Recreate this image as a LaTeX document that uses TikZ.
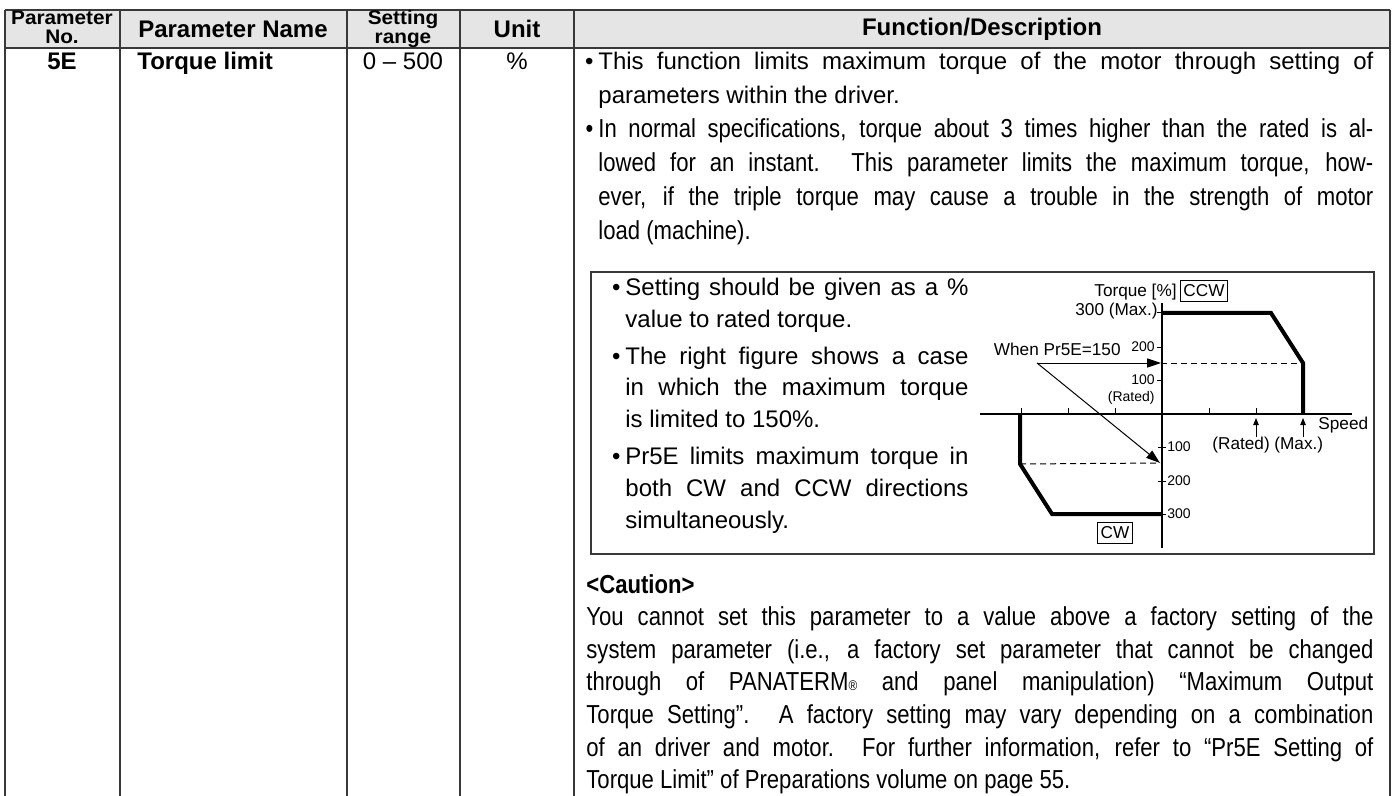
\documentclass[tikz,border=0pt]{standalone}
\usepackage{fontspec}
\setmainfont{Liberation Sans}
\newfontfamily\narrowsans[FakeStretch=0.85]{Liberation Sans}
\newfontfamily\widesans[FakeStretch=1.06]{Liberation Sans}
\usetikzlibrary{arrows.meta}
\newcommand\bodytext{\fontsize{12pt}{17pt}\selectfont}
\newcommand\narrowtext{\narrowsans\fontsize{13pt}{17pt}\selectfont}
\newcommand\justifyall{\tolerance=10000\hbadness=10000\emergencystretch=0pt}
\newcommand\bul{\leavevmode\llap{\textbullet\hspace{2.5pt}}}
\definecolor{headgray}{gray}{0.9}
\definecolor{rulegray}{gray}{0.22}
\begin{document}
\begin{tikzpicture}[x=0.5pt,y=-0.5pt,
  rule/.style={draw=rulegray,line width=0.9pt},
  hdr/.style={font=\bfseries\fontsize{12pt}{14pt}\selectfont,inner sep=0pt},
  hdrsmall/.style={font=\widesans\bfseries\fontsize{9.8pt}{11pt}\selectfont,inner sep=0pt,anchor=base},
  cell/.style={font=\bodytext,inner sep=0pt},
  para/.style={inner sep=0pt,align=justify,anchor=base west},
  glabel/.style={font=\fontsize{8.6pt}{10pt}\selectfont,inner sep=0pt},
  tlabel/.style={font=\fontsize{7pt}{8pt}\selectfont,inner sep=0pt},
  tagbox/.style={draw,line width=0.5pt,font=\fontsize{8.6pt}{10pt}\selectfont,inner xsep=1.6pt,inner ysep=0pt,minimum height=10.5pt},
  curve/.style={line width=2pt},
  axis/.style={line width=0.6pt},
  guide/.style={line width=0.5pt,dash pattern=on 3pt off 2pt},
  pointer/.style={line width=0.5pt,-{Triangle[length=7pt,width=4.6pt]}},
  upmark/.style={line width=0.5pt,-{Triangle[length=3.6pt,width=2.8pt]}},
  tick/.style={line width=0.5pt}]
\useasboundingbox (0,0) rectangle (1395,796);
\fill[white] (0,0) rectangle (1395,796);

% table frame and header band
\fill[headgray] (5,10) rectangle (1390,48);
\draw[rule] (5,10) -- (1390,10);
\draw[rule] (5,48) -- (1390,48);
\foreach \x in {5,120,347,460,574,1390} \draw[rule] (\x,10) -- (\x,796);

% header cells
\node[hdrsmall] (hno1) at (62,25) {Parameter};
\node[hdrsmall] (hno2) at (62,43.5) {No.};
\node[hdr] (hname) at (233,29) {Parameter Name};
\node[hdrsmall] (hrange1) at (403,25) {Setting};
\node[hdrsmall] (hrange2) at (403,43.5) {range};
\node[hdr] (hunit) at (517,29) {Unit};
\node[hdr] (hfunc) at (982,29) {Function/Description};

% parameter row
\node[cell,anchor=base] (pno) at (62,70) {\bfseries 5E};
\node[cell,anchor=base west] (pname) at (137,70) {\bfseries Torque limit};
\node[cell,anchor=base] (prange) at (403,70) {0 – 500};
\node[cell,anchor=base] (punit) at (517,70) {\%};

% description paragraphs
\node[para,text width=387.5pt,font=\bodytext] (desc1) at (598,70)
  {\justifyall\bul This function limits maximum torque of the motor through setting of\linebreak
   parameters within the driver.};
\node[para,text width=387.5pt,font=\narrowtext] (desc2) at (598,138)
  {\justifyall\bul In normal specifications, torque about 3 times higher than the rated is al-\linebreak
   lowed for an instant.  This parameter limits the maximum torque, how-\linebreak
   ever, if the triple torque may cause a trouble in the strength of motor\linebreak
   load (machine).};

% framed note with the torque graph
\draw[rule,line width=0.8pt] (591,272) rectangle (1374,554);
\node[para,text width=171.5pt,font=\fontsize{12pt}{16pt}\selectfont] (note) at (625,296)
  {\justifyall\setlength{\parskip}{2pt}%
   \bul Setting should be given as a \%\linebreak value to rated torque.\par
   \bul The right figure shows a case\linebreak in which the maximum torque\linebreak is limited to 150\%.\par
   \bul Pr5E limits maximum torque in\linebreak both CW and CCW directions\linebreak simultaneously.};

% graph points
\coordinate (O) at (1162,414);
\coordinate (ytop) at (1162,303);
\coordinate (ybot) at (1162,548);
\coordinate (xleft) at (980,414);
\coordinate (xright) at (1352,414);
\coordinate (ccw1) at (1162,313);
\coordinate (ccw2) at (1271,313);
\coordinate (ccw3) at (1303,363);
\coordinate (ccw4) at (1303,414);
\coordinate (cw1) at (1020,414);
\coordinate (cw2) at (1020,464);
\coordinate (cw3) at (1052,514);
\coordinate (cw4) at (1162,514);
\coordinate (wstart) at (1037,363);
\coordinate (ccwlim) at (1161,363);
\coordinate (cwlim) at (1160,463);
\coordinate (ratedfoot) at (1256,437);
\coordinate (ratedhead) at (1256,418);
\coordinate (maxfoot) at (1303,437);
\coordinate (maxhead) at (1303,418);

% axes and ticks
\draw[axis] (xleft) -- (xright);
\draw[axis] (ytop) -- (ybot);
\foreach \x in {1021,1068,1115,1209,1256} \draw[tick] (\x,408) -- (\x,415);
\foreach \y in {313,347,380} \draw[tick] (1157,\y) -- (1162,\y);
\foreach \y in {447,481,514} \draw[tick] (1158,\y) -- (1166,\y);

% torque limit outline and the 150 % limit
\draw[guide] (ccwlim) -- (ccw3);
\draw[guide] (cw2) -- (cwlim);
\draw[curve] (ccw1) -- (ccw2) -- (ccw3) -- (ccw4);
\draw[curve] (cw1) -- (cw2) -- (cw3) -- (cw4);
\draw[pointer] (wstart) -- (ccwlim);
\draw[pointer] (wstart) -- (cwlim);
\draw[upmark] (ratedfoot) -- (ratedhead);
\draw[upmark] (maxfoot) -- (maxhead);

% graph labels
\node[glabel,anchor=east] (tq) at (1177,292) {Torque [\%]};
\node[tagbox] (ccw) at (1204,291) {CCW};
\node[glabel,anchor=east] (tmax) at (1158,311) {300 (Max.)};
\node[tlabel,anchor=east] (t200) at (1155,347) {200};
\node[tlabel,anchor=east] (t100) at (1155,380) {100};
\node[tlabel,anchor=east] (trated) at (1155,398) {(Rated)};
\node[glabel,anchor=east] (when) at (1121,349) {When Pr5E=150};
\node[glabel,anchor=west] (speed) at (1318,425) {Speed};
\node[glabel,anchor=west] (srated) at (1212,445) {(Rated)};
\node[glabel,anchor=west] (smax) at (1274,445) {(Max.)};
\node[tlabel,anchor=west] (n100) at (1167,447) {100};
\node[tlabel,anchor=west] (n200) at (1167,481) {200};
\node[tlabel,anchor=west] (n300) at (1167,514) {300};
\node[tagbox] (cw) at (1115,533) {CW};

% caution
\node[para,text width=393.5pt,font=\narrowsans\fontsize{13pt}{16.3pt}\selectfont] (caution) at (586,593)
  {\justifyall{\bfseries <Caution>}\par
   You cannot set this parameter to a value above a factory setting of the\linebreak
   system parameter (i.e., a factory set parameter that cannot be changed\linebreak
   through of PANATERM{\fontsize{7pt}{7pt}\selectfont ®} and panel manipulation) “Maximum Output\linebreak
   Torque Setting”.  A factory setting may vary depending on a combination\linebreak
   of an driver and motor.  For further information, refer to “Pr5E Setting of\linebreak
   Torque Limit” of Preparations volume on page 55.};
\end{tikzpicture}
\end{document}
